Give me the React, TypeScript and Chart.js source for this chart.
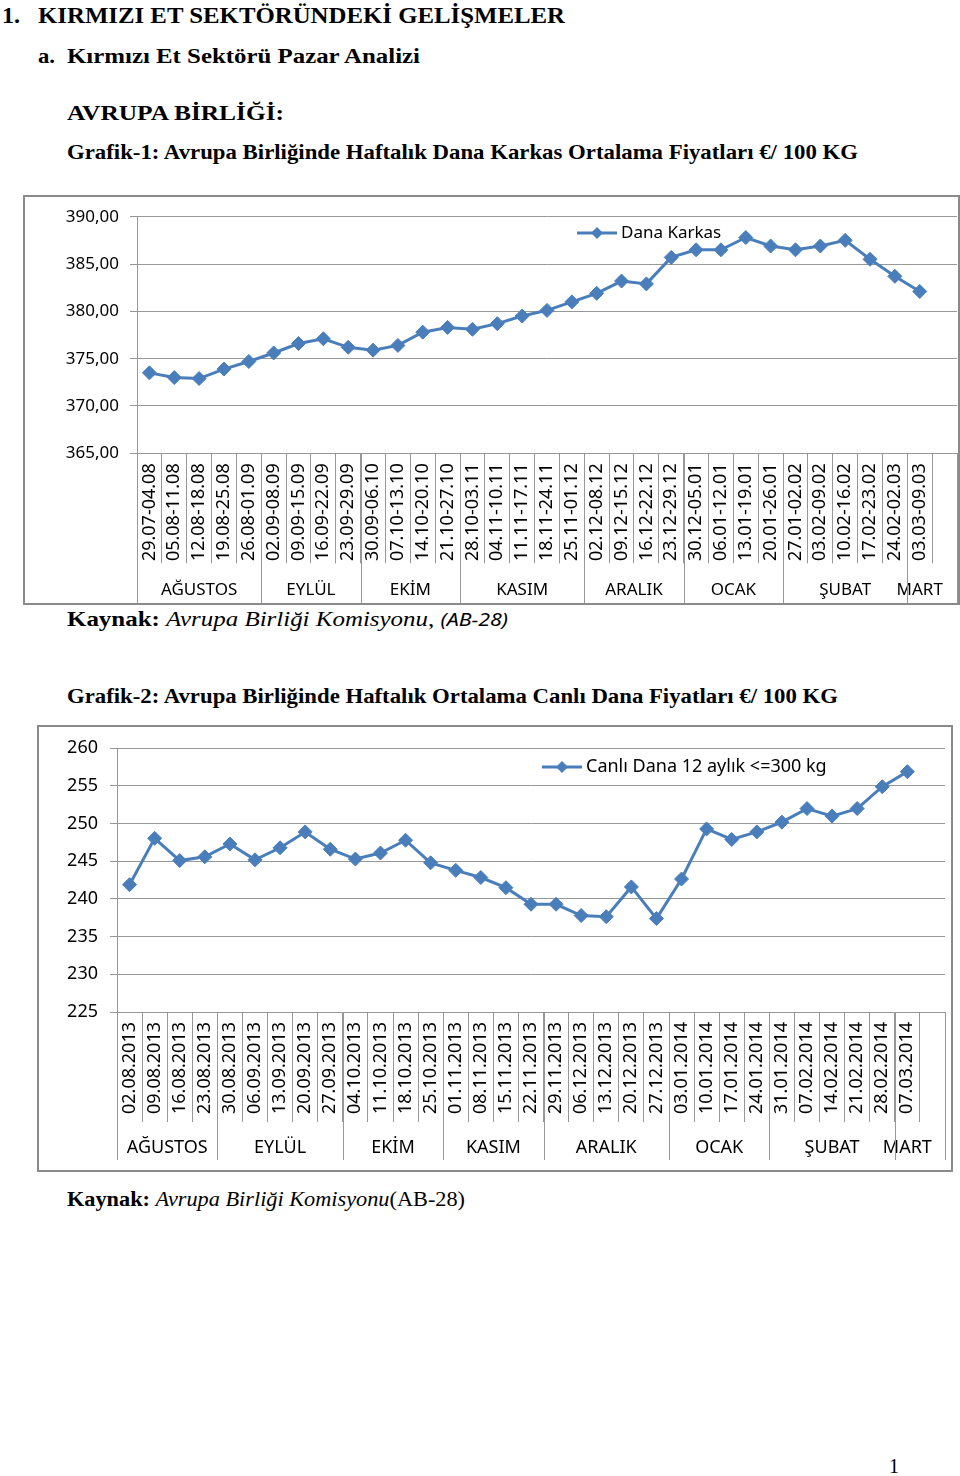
import React, { useEffect, useLayoutEffect, useRef } from 'react';
import { Chart, registerables } from 'chart.js';

Chart.register(...registerables);

// ---------- DATA: Grafik-1 ----------
const weeks1 = [
  '29.07-04.08', '05.08-11.08', '12.08-18.08', '19.08-25.08', '26.08-01.09',
  '02.09-08.09', '09.09-15.09', '16.09-22.09', '23.09-29.09',
  '30.09-06.10', '07.10-13.10', '14.10-20.10', '21.10-27.10',
  '28.10-03.11', '04.11-10.11', '11.11-17.11', '18.11-24.11', '25.11-01.12',
  '02.12-08.12', '09.12-15.12', '16.12-22.12', '23.12-29.12',
  '30.12-05.01', '06.01-12.01', '13.01-19.01', '20.01-26.01',
  '27.01-02.02', '03.02-09.02', '10.02-16.02', '17.02-23.02', '24.02-02.03',
  '03.03-09.03',
];
const karkasPrices = [
  373.5, 373.0, 372.9, 373.9, 374.7,
  375.6, 376.6, 377.1, 376.2,
  375.9, 376.4, 377.8, 378.3,
  378.1, 378.7, 379.5, 380.1, 381.0,
  381.9, 383.2, 382.9, 385.7,
  386.5, 386.5, 387.8, 386.9,
  386.5, 386.9, 387.5, 385.5, 383.7,
  382.1,
];
const months1 = ['AĞUSTOS', 'EYLÜL', 'EKİM', 'KASIM', 'ARALIK', 'OCAK', 'ŞUBAT', 'MART'];
const monthWeekCounts1 = [5, 4, 4, 5, 4, 4, 5, 1];
const series1Name = 'Dana Karkas';
const yRange1 = [365, 390];
const yStep1 = 5;

// ---------- DATA: Grafik-2 ----------
const weeks2 = [
  '02.08.2013', '09.08.2013', '16.08.2013', '23.08.2013',
  '30.08.2013', '06.09.2013', '13.09.2013', '20.09.2013', '27.09.2013',
  '04.10.2013', '11.10.2013', '18.10.2013', '25.10.2013',
  '01.11.2013', '08.11.2013', '15.11.2013', '22.11.2013',
  '29.11.2013', '06.12.2013', '13.12.2013', '20.12.2013', '27.12.2013',
  '03.01.2014', '10.01.2014', '17.01.2014', '24.01.2014',
  '31.01.2014', '07.02.2014', '14.02.2014', '21.02.2014', '28.02.2014',
  '07.03.2014',
];
const canliPrices = [
  241.9, 248.05, 245.1, 245.6,
  247.3, 245.2, 246.8, 248.9, 246.6,
  245.3, 246.1, 247.8, 244.8,
  243.8, 242.85, 241.5, 239.3,
  239.3, 237.8, 237.65, 241.6, 237.4,
  242.65, 249.3, 247.9, 248.9,
  250.2, 252.0, 251.0, 252.0, 254.9,
  256.9,
];
const months2 = ['AĞUSTOS', 'EYLÜL', 'EKİM', 'KASIM', 'ARALIK', 'OCAK', 'ŞUBAT', 'MART'];
const monthWeekCounts2 = [4, 5, 4, 4, 5, 4, 5, 1];
const series2Name = 'Canlı Dana 12 aylık <=300 kg';
const yRange2 = [225, 260];
const yStep2 = 5;

// ---------- STYLE ----------
const BLUE = '#4A7EBB';
const GRID = '#979797';
const AXIS_FONT = "'Noto Sans', 'Open Sans', sans-serif";
const SERIF = "'Liberation Serif', 'Times New Roman', serif";

type Spec = {
  labels: string[];
  values: (number | null)[];
  series: string;
  months: string[];
  counts: number[];
  yMin: number;
  yMax: number;
  yStep: number;
  decimals: number;
  width: number;
  height: number;
  yAxisWidth: number;
  xAxisHeight: number;
  padTop: number;
  padRight: number;
  yFont: number;
  yPad: number;
  xFont: number;
  legendX: number;
  legendY: number;
  legendFont: number;
  groupY: number;
  groupEnd: number;
  groupFont: number;
};

function makeConfig(s: Spec): any {
  const dividerLen = 110;
  const labelGap = 10;

  const legendPlugin = {
    id: 'customLegend',
    afterDraw(chart: any) {
      const ctx = chart.ctx;
      ctx.save();
      ctx.strokeStyle = BLUE;
      ctx.lineWidth = 3;
      ctx.beginPath();
      ctx.moveTo(s.legendX, s.legendY);
      ctx.lineTo(s.legendX + 40, s.legendY);
      ctx.stroke();
      const cx = s.legendX + 20;
      const r = 6;
      ctx.fillStyle = BLUE;
      ctx.beginPath();
      ctx.moveTo(cx - r, s.legendY);
      ctx.lineTo(cx, s.legendY - r);
      ctx.lineTo(cx + r, s.legendY);
      ctx.lineTo(cx, s.legendY + r);
      ctx.closePath();
      ctx.fill();
      ctx.fillStyle = '#000';
      ctx.font = `${s.legendFont}px ${AXIS_FONT}`;
      ctx.textAlign = 'left';
      ctx.textBaseline = 'middle';
      ctx.fillText(s.series, s.legendX + 44, s.legendY);
      ctx.restore();
    },
  };

  const groupPlugin = {
    id: 'monthGroups',
    afterDraw(chart: any) {
      const { ctx, chartArea } = chart;
      const x = chart.scales.x;
      const w = x.getPixelForValue(1) - x.getPixelForValue(0);
      const edge = (i: number) => x.getPixelForValue(i) - w / 2;
      ctx.save();
      ctx.strokeStyle = GRID;
      ctx.lineWidth = 1;
      ctx.fillStyle = '#000';
      ctx.font = `${s.groupFont}px ${AXIS_FONT}`;
      ctx.textAlign = 'center';
      ctx.textBaseline = 'middle';
      const lines: number[] = [];
      let start = 0;
      s.months.forEach((m, k) => {
        const l = edge(start);
        const r = edge(start + s.counts[k]);
        lines.push(l);
        ctx.fillText(m, (l + r) / 2, s.groupY);
        start += s.counts[k];
      });
      lines.push(chartArea.right);
      lines.forEach((px) => {
        const xx = Math.round(px) + 0.5;
        ctx.beginPath();
        ctx.moveTo(xx, chartArea.bottom);
        ctx.lineTo(xx, s.groupEnd);
        ctx.stroke();
      });
      ctx.restore();
    },
  };

  return {
    type: 'line',
    data: {
      labels: [...s.labels, ''],
      datasets: [
        {
          label: s.series,
          data: [...s.values, null],
          borderColor: BLUE,
          backgroundColor: BLUE,
          borderWidth: 3,
          pointStyle: 'rectRot',
          pointRadius: 7,
          pointBorderWidth: 1,
          pointBackgroundColor: BLUE,
          pointBorderColor: BLUE,
          tension: 0,
          fill: false,
        },
      ],
    },
    options: {
      responsive: false,
      animation: false,
      devicePixelRatio: 1,
      layout: {
        autoPadding: false,
        padding: { top: s.padTop, right: s.padRight, left: 0, bottom: 0 },
      },
      plugins: {
        legend: { display: false },
        tooltip: { enabled: false },
      },
      scales: {
        x: {
          type: 'category',
          offset: true,
          afterFit: (sc: any) => {
            sc.height = s.xAxisHeight;
            sc.paddingLeft = 0;
            sc.paddingRight = 0;
          },
          grid: {
            offset: true,
            drawOnChartArea: false,
            drawTicks: true,
            tickLength: dividerLen,
            color: GRID,
            lineWidth: 1,
          },
          border: { display: true, color: GRID, width: 1 },
          ticks: {
            autoSkip: false,
            minRotation: 90,
            maxRotation: 90,
            padding: labelGap - dividerLen,
            color: '#000',
            font: { family: AXIS_FONT, size: s.xFont },
          },
        },
        y: {
          min: s.yMin,
          max: s.yMax,
          afterFit: (sc: any) => {
            sc.width = s.yAxisWidth;
            sc.paddingTop = 0;
            sc.paddingBottom = 0;
          },
          grid: {
            color: GRID,
            lineWidth: 1,
            tickLength: 7,
            drawTicks: true,
          },
          border: { display: true, color: GRID, width: 1 },
          ticks: {
            stepSize: s.yStep,
            padding: s.yPad,
            color: '#000',
            font: { family: AXIS_FONT, size: s.yFont },
            callback: (v: any) => Number(v).toFixed(s.decimals).replace('.', ','),
          },
        },
      },
    },
    plugins: [groupPlugin, legendPlugin],
  };
}

function LineChart({ spec }: { spec: Spec }) {
  const ref = useRef<HTMLCanvasElement>(null);
  useEffect(() => {
    const canvas = ref.current;
    if (!canvas) return;
    const chart = new Chart(canvas, makeConfig(spec));
    return () => chart.destroy();
  }, [spec]);
  return (
    <canvas
      ref={ref}
      width={spec.width}
      height={spec.height}
      style={{ display: 'block', width: spec.width, height: spec.height }}
    />
  );
}

const spec1: Spec = {
  labels: weeks1,
  values: karkasPrices,
  series: series1Name,
  months: months1,
  counts: monthWeekCounts1,
  yMin: yRange1[0],
  yMax: yRange1[1],
  yStep: yStep1,
  decimals: 2,
  width: 933,
  height: 406,
  yAxisWidth: 112,
  xAxisHeight: 149.7,
  padTop: 19.7,
  padRight: 1,
  yFont: 17,
  yPad: 11,
  xFont: 18,
  legendX: 552,
  legendY: 36,
  legendFont: 17,
  groupY: 393,
  groupEnd: 406,
  groupFont: 17,
};

const spec2: Spec = {
  labels: weeks2,
  values: canliPrices,
  series: series2Name,
  months: months2,
  counts: monthWeekCounts2,
  yMin: yRange2[0],
  yMax: yRange2[1],
  yStep: yStep2,
  decimals: 0,
  width: 912,
  height: 443,
  yAxisWidth: 78,
  xAxisHeight: 158,
  padTop: 21.3,
  padRight: 6,
  yFont: 18,
  yPad: 12,
  xFont: 18,
  legendX: 503,
  legendY: 40,
  legendFont: 18,
  groupY: 421,
  groupEnd: 433,
  groupFont: 18,
};

function FitText(props: {
  left: number;
  centerY: number;
  fontSize: number;
  width?: number;
  children: React.ReactNode;
  style?: React.CSSProperties;
}) {
  const { left, centerY, fontSize, width, children, style } = props;
  const ref = useRef<HTMLDivElement>(null);
  useLayoutEffect(() => {
    const el = ref.current;
    if (!el || !width) return;
    el.style.transform = 'none';
    const natural = el.getBoundingClientRect().width;
    if (natural > 0) el.style.transform = `scaleX(${width / natural})`;
  }, [width]);
  return (
    <div
      ref={ref}
      style={{
        position: 'absolute',
        left,
        top: centerY - 0.507 * fontSize,
        fontSize,
        lineHeight: 1,
        whiteSpace: 'nowrap',
        transformOrigin: '0 0',
        fontFamily: SERIF,
        color: '#000',
        ...style,
      }}
    >
      {children}
    </div>
  );
}

export default function App() {
  return (
    <div
      style={{
        position: 'absolute',
        left: 0,
        top: 0,
        width: 960,
        height: 1476,
        background: '#fff',
        overflow: 'hidden',
      }}
    >
      <FitText left={2} centerY={15} fontSize={24} width={18} style={{ fontWeight: 'bold' }}>
        1.
      </FitText>
      <FitText left={38} centerY={15} fontSize={24} width={527} style={{ fontWeight: 'bold' }}>
        KIRMIZI ET SEKTÖRÜNDEKİ GELİŞMELER
      </FitText>
      <FitText left={38} centerY={56} fontSize={22} width={17} style={{ fontWeight: 'bold' }}>
        a.
      </FitText>
      <FitText left={67} centerY={56} fontSize={22} width={353} style={{ fontWeight: 'bold' }}>
        Kırmızı Et Sektörü Pazar Analizi
      </FitText>
      <FitText left={67} centerY={113.5} fontSize={22} width={217} style={{ fontWeight: 'bold' }}>
        AVRUPA BİRLİĞİ:
      </FitText>
      <FitText left={67} centerY={153} fontSize={21} width={791} style={{ fontWeight: 'bold' }}>
        Grafik-1: Avrupa Birliğinde Haftalık Dana Karkas Ortalama Fiyatları €/ 100 KG
      </FitText>

      <div
        style={{
          position: 'absolute',
          left: 23,
          top: 195,
          width: 937,
          height: 410,
          boxSizing: 'border-box',
          border: '2px solid #8a8a8a',
          background: '#fff',
        }}
      >
        <LineChart spec={spec1} />
      </div>

      <FitText left={67} centerY={620} fontSize={21} width={441}>
        <b>Kaynak:</b> <i>Avrupa Birliği Komisyonu</i>,{' '}
        <i style={{ fontFamily: AXIS_FONT, fontSize: 18 }}>(AB-28)</i>
      </FitText>

      <FitText left={67} centerY={697} fontSize={21} width={771} style={{ fontWeight: 'bold' }}>
        Grafik-2: Avrupa Birliğinde Haftalık Ortalama Canlı Dana Fiyatları €/ 100 KG
      </FitText>

      <div
        style={{
          position: 'absolute',
          left: 37,
          top: 725,
          width: 916,
          height: 447,
          boxSizing: 'border-box',
          border: '2px solid #8a8a8a',
          background: '#fff',
        }}
      >
        <LineChart spec={spec2} />
      </div>

      <FitText left={67} centerY={1199} fontSize={20} width={398}>
        <b>Kaynak:</b> <i>Avrupa Birliği Komisyonu</i>(AB-28)
      </FitText>

      <FitText left={889} centerY={1466} fontSize={20}>
        1
      </FitText>
    </div>
  );
}
